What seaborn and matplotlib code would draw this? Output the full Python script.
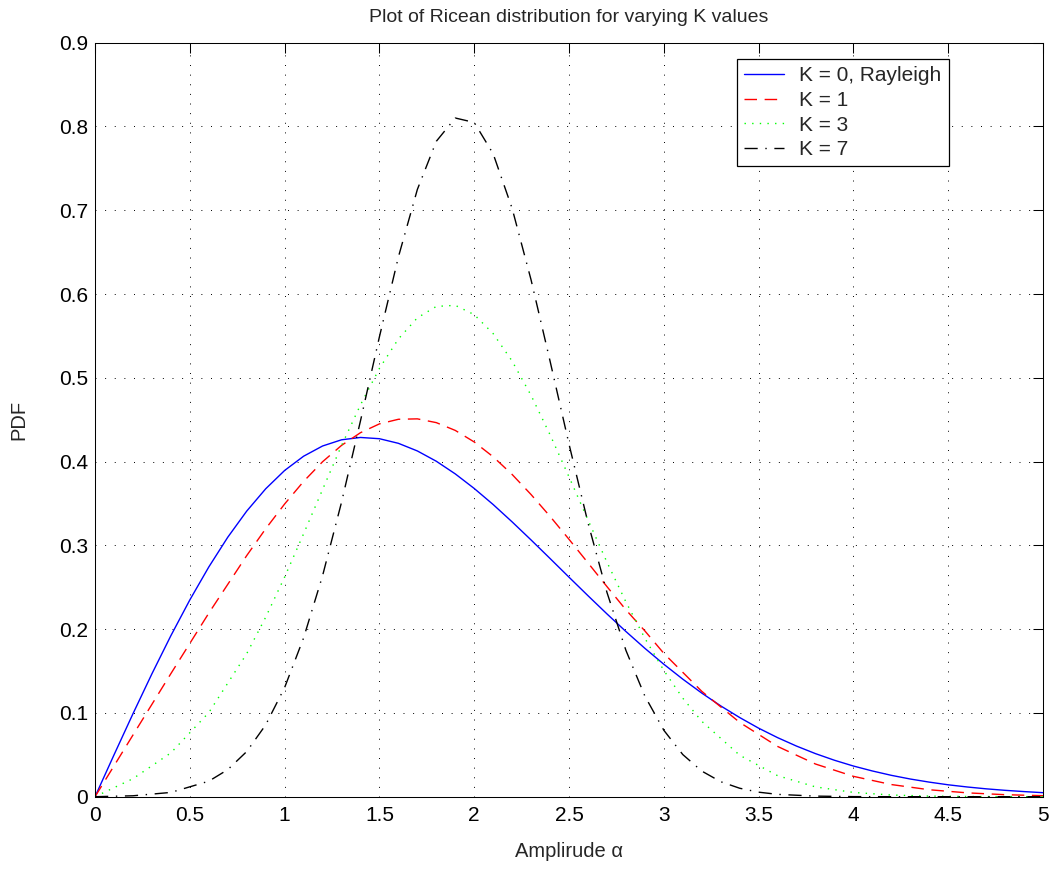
import numpy as np
import pandas as pd
import matplotlib
matplotlib.use("Agg")
import matplotlib.pyplot as plt
import seaborn as sns


## DATA
# amplitude samples, denser where a curve bends a lot
x_k0 = list(np.round(np.arange(0, 5.01, 0.1), 1))
x_k1 = [0, 0.2, 0.4, 0.6, 0.8] + list(np.round(np.arange(0.9, 3.01, 0.1), 1)) \
    + list(np.round(np.arange(3.2, 5.01, 0.2), 1))
x_k3 = [0, 0.2, 0.4, 0.6, 0.8] + list(np.round(np.arange(0.9, 3.11, 0.1), 1)) \
    + list(np.round(np.arange(3.2, 5.01, 0.2), 1))
x_k7 = [0, 0.2, 0.4] + list(np.round(np.arange(0.6, 3.61, 0.1), 1)) \
    + list(np.round(np.arange(3.8, 5.01, 0.2), 1))

pdf_k0 = [0, 0.0499, 0.0990, 0.1467, 0.1922, 0.2349, 0.2742, 0.3097, 0.3409, 0.3675,
          0.3894, 0.4064, 0.4186, 0.4260, 0.4288, 0.4273, 0.4218, 0.4127, 0.4004, 0.3853,
          0.3679, 0.3487, 0.3280, 0.3064, 0.2843, 0.2620, 0.2399, 0.2182, 0.1972, 0.1771,
          0.1581, 0.1403, 0.1237, 0.1084, 0.0945, 0.0818, 0.0705, 0.0604, 0.0514, 0.0435,
          0.0366, 0.0307, 0.0255, 0.0211, 0.0174, 0.0142, 0.0116, 0.0094, 0.0076, 0.0061,
          0.0048]
pdf_k1 = [0, 0.0736, 0.1469, 0.2191, 0.2878,
          0.3198, 0.3494, 0.3763, 0.3998, 0.4193, 0.4345, 0.4450, 0.4505, 0.4510, 0.4465,
          0.4372, 0.4234, 0.4057, 0.3846, 0.3606, 0.3346, 0.3072, 0.2791, 0.2508, 0.2231,
          0.1979, 0.1711,
          0.1258, 0.0887, 0.0600, 0.0390, 0.0243, 0.0145, 0.0083, 0.0046, 0.0024, 0.0012]
pdf_k3 = [0, 0.0215, 0.0523, 0.1004, 0.1707,
          0.2142, 0.2622, 0.3138, 0.3666, 0.4191, 0.4677, 0.5112, 0.5464, 0.5716, 0.5852,
          0.5865, 0.5754, 0.5527, 0.5199, 0.4789, 0.4320, 0.3817, 0.3303, 0.2800, 0.2325,
          0.1891, 0.1507, 0.1176,
          0.0900, 0.0495, 0.0251, 0.0117, 0.0051, 0.0020, 0.0007, 0.0002, 0.0001, 0.0000]
pdf_k7 = [0, 0.0011, 0.0051,
          0.0185, 0.0323, 0.0539, 0.0857, 0.1303, 0.1895, 0.2637, 0.3514, 0.4486, 0.5490,
          0.6442, 0.7248, 0.7823, 0.8101, 0.8048, 0.7673, 0.7021, 0.6167, 0.5199, 0.4208,
          0.3269, 0.2439, 0.1747, 0.1201, 0.0793, 0.0503, 0.0306, 0.0179, 0.0101, 0.0054,
          0.0028,
          0.0007, 0.0001, 0.0000, 0.0000, 0.0000, 0.0000, 0.0000]

curve_names = ["K = 0, Rayleigh", "K = 1", "K = 3", "K = 7"]
curve_colors = ["#0000ff", "#ff0000", "#00ff00", "#000000"]
curve_dashes = ["", (9, 5.5), (1, 4.5), (9.5, 5.5, 1, 5.5)]

x_ticks = [0, 0.5, 1, 1.5, 2, 2.5, 3, 3.5, 4, 4.5, 5]
y_ticks = [0, 0.1, 0.2, 0.3, 0.4, 0.5, 0.6, 0.7, 0.8, 0.9]


## build long-form table
frames = []
for name, xs, ys in zip(curve_names, [x_k0, x_k1, x_k3, x_k7], [pdf_k0, pdf_k1, pdf_k3, pdf_k7]):
    frames.append(pd.DataFrame({"amp": xs, "pdf": ys, "curve": name}))
df = pd.concat(frames, ignore_index=True)


## PLOT
sns.set_style("white")
plt.rcParams["font.family"] = ["Liberation Sans", "DejaVu Sans"]

fig = plt.figure(figsize=(10.49, 8.73), dpi=100)
ax = fig.add_axes([0.0906, 0.0874, 0.9037, 0.8637])

sns.lineplot(
    data=df, ax=ax,
    x="amp", y="pdf", hue="curve", style="curve",
    hue_order=curve_names, style_order=curve_names,
    palette=dict(zip(curve_names, curve_colors)),
    dashes=dict(zip(curve_names, curve_dashes)),
    estimator=None, errorbar=None, sort=True,
    linewidth=1.0,
)

ax.set_xlim(0, 5)
ax.set_ylim(0, 0.9)
ax.set_xticks(x_ticks)
ax.set_xticklabels([f"{v:g}" for v in x_ticks])
ax.set_yticks(y_ticks)
ax.set_yticklabels([f"{v:g}" for v in y_ticks])
ax.tick_params(axis="both", direction="in", length=7, width=0.75,
               top=True, right=True, labelsize=15, colors="k")
ax.tick_params(axis="x", pad=7)
ax.tick_params(axis="y", pad=5)

ax.grid(True, color="k", linestyle=(0, (1, 8.9)), linewidth=0.7)
ax.set_axisbelow(True)
for sp in ax.spines.values():
    sp.set_color("k")
    sp.set_linewidth(0.75)

ax.set_xlabel("Amplirude α", fontsize=14.5, labelpad=12)
ax.set_ylabel("PDF", fontsize=14.5, labelpad=22)
ax.set_title("Plot of Ricean distribution for varying K values", fontsize=14, pad=15)

sns.move_legend(
    ax, "upper right",
    bbox_to_anchor=(0.9008, 0.9784),
    title=None, fontsize=15,
    frameon=True, fancybox=False, framealpha=1, edgecolor="k",
    borderpad=0.35, labelspacing=0.27, handlelength=1.9, handletextpad=0.75,
    borderaxespad=0,
)
ax.get_legend().get_frame().set_linewidth(0.9)

plt.savefig("out.png", dpi=100)
plt.close()
